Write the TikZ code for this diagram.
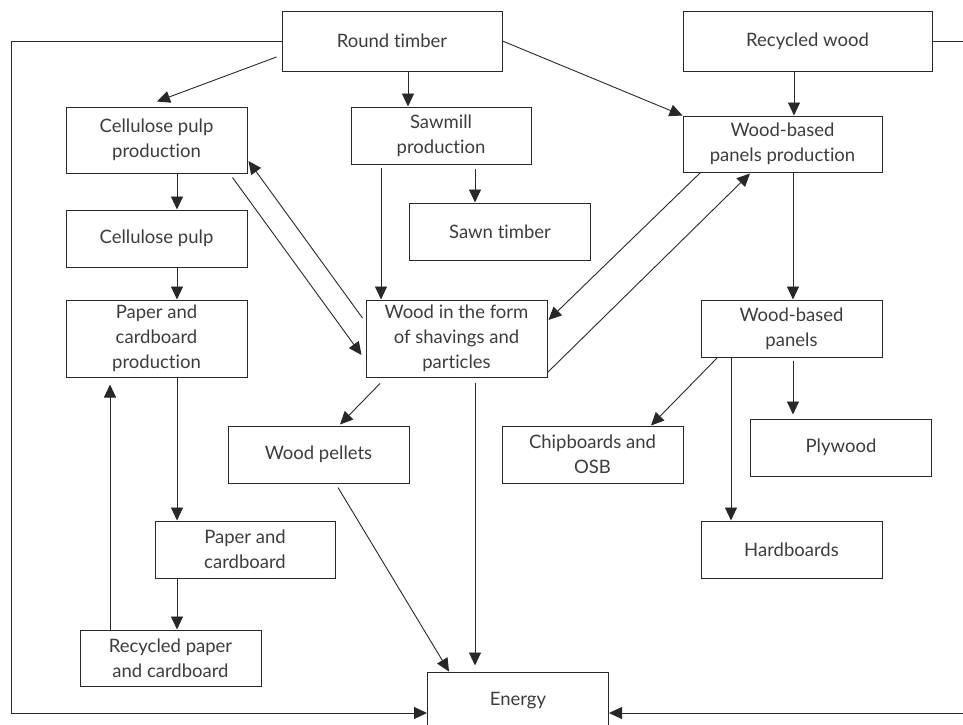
\documentclass[tikz,border=0pt]{standalone}
\usepackage{fontspec}
\setmainfont{Lato}[Ligatures=NoCommon]
\usepackage{tikz}
\usetikzlibrary{arrows.meta,positioning,calc}
\definecolor{woodline}{RGB}{40,40,40}
\definecolor{woodtext}{RGB}{60,60,60}

\begin{document}
\begin{tikzpicture}[x=1pt,y=-1pt,
    stage/.style={draw=woodline, line width=1pt, minimum width=181pt, minimum height=57pt,
      inner sep=0pt, align=center, text=woodtext, font=\fontsize{18.5}{25}\selectfont},
    flow/.style={draw=woodline, line width=0.9pt, -{Triangle[length=13pt,width=12pt]}}]
  \useasboundingbox (0,0) rectangle (963,724);

  % raw material
  \node[stage, minimum width=220pt, minimum height=60pt] (rt) at (392,41) {Round timber};
  \node[stage, minimum width=249pt, minimum height=60pt] (rw) at (807.5,41) {Recycled wood};

  % production stages
  \node[stage, minimum height=66pt] (cpp) at (156.5,140) {Cellulose pulp\\production};
  \node[stage, minimum width=180pt] (saw) at (441,135.5) {Sawmill\\production};
  \node[stage, minimum width=199pt, minimum height=56pt] (wbpp) at (782.5,144) {Wood-based\\panels production};
  \node[stage] (cp) at (156.5,238.5) {Cellulose pulp};
  \node[stage] (st) at (500,231.5) {Sawn timber};
  \node[stage, minimum height=77pt] (pcp) at (156.5,338.5) {Paper and\\cardboard\\production};
  \node[stage, minimum height=77pt] (wf) at (456.5,338.5) {Wood in the form\\of shavings and\\particles};
  \node[stage] (wbp) at (791.5,328.5) {Wood-based\\panels};

  % products
  \node[stage] (wp) at (318.5,454.5) {Wood pellets};
  \node[stage] (chip) at (592.5,454.5) {Chipboards and\\OSB};
  \node[stage] (ply) at (841,447.5) {Plywood};
  \node[stage, minimum width=180pt] (pc) at (245,549.5) {Paper and\\cardboard};
  \node[stage] (hb) at (791.5,549.5) {Hardboards};
  \node[stage, minimum height=56pt] (rp) at (170.5,658) {Recycled paper\\and cardboard};
  \node[stage] (en) at (518,700.5) {Energy};

  % outer loops to energy
  \coordinate (lt) at ($(rt.west)+(-270,0)$);
  \coordinate (rtop) at ($(rw.east)+(43,0)$);
  \draw[flow] (rt.west) -- (lt) |- ([yshift=-12.5pt]en.west);
  \draw[flow] (rw.east) -- (rtop) |- ([yshift=-12.5pt]en.east);

  % from round timber and recycled wood
  \draw[flow] ($(rt.west)+(-5,16)$) -- ($(cpp.north)+(0.5,-5)$);
  \draw[flow] ([xshift=16pt]rt.south) -- ([xshift=-33pt]saw.north);
  \draw[flow] (rt.east) -- (wbpp.north west);
  \draw[flow] ([xshift=-13.5pt]rw.south) -- ([xshift=11.5pt]wbpp.north);

  % paper line
  \draw[flow] ([xshift=20.5pt]cpp.south) -- ([xshift=20.5pt]cp.north);
  \draw[flow] ([xshift=20.5pt]cp.south) -- ([xshift=20.5pt]pcp.north);
  \draw[flow] ([xshift=20.5pt]pcp.south) -- ([xshift=-68pt]pc.north);
  \draw[flow] ([xshift=-68pt]pc.south) -- ([xshift=6.5pt]rp.north);
  \draw[flow, shorten >=7pt] ([xshift=-60.5pt]rp.north) -- ([xshift=-46.5pt]pcp.south);

  % sawmill
  \draw[flow, shorten <=3pt] ([xshift=-60pt]saw.south) -- ([xshift=-75.5pt]wf.north);
  \draw[flow, shorten <=4pt] ([xshift=34pt]saw.south) -- ([xshift=-25pt]st.north);

  % shavings exchange
  \draw[flow] ($(cpp.south east)+(-15,4)$) -- ($(wf.west)+(-4,16.5)$);
  \draw[flow] ($(wf.west)+(-3,-20.5)$) -- ($(cpp.east)+(1,21)$);
  \draw[flow] ($(wbpp.south west)+(18,0)$) -- ($(wf.east)+(1,-18.5)$);
  \draw[flow] ($(wf.south east)+(0,-5)$) -- ($(wbpp.south)+(-32.5,1)$);

  % wood-based panels
  \draw[flow] ([xshift=10.5pt]wbpp.south) -- ([xshift=1.5pt]wbp.north);
  \draw[flow] ($(wbp.south west)+(17,0)$) -- ($(chip.north)+(58.5,0)$);
  \draw[flow] ([xshift=-60.5pt]wbp.south) -- ([xshift=-60.5pt]hb.north);
  \draw[flow, shorten <=3pt, shorten >=4pt] ([xshift=1.5pt]wbp.south) -- ([xshift=-48pt]ply.north);

  % to energy
  \draw[flow] ($(wf.south)+(-76.5,6)$) -- ($(wp.north)+(21.5,-1)$);
  \draw[flow, shorten <=5pt, shorten >=6pt] ([xshift=18.5pt]wf.south) -- ([xshift=-43pt]en.north);
  \draw[flow] ($(wp.south)+(19.5,4)$) -- ($(en.north west)+(22,0)$);
\end{tikzpicture}
\end{document}
